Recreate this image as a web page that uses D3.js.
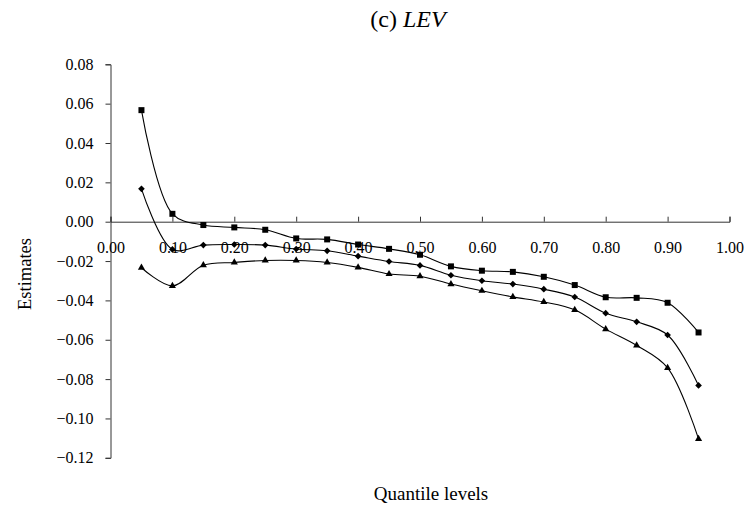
<!DOCTYPE html>
<html>
<head>
<meta charset="utf-8">
<script src="https://cdn.jsdelivr.net/npm/d3@7"></script>
<style>
  body { margin: 0; background: #fff; }
</style>
</head>
<body>
<div class="chart"></div>
<script>
'use strict';

// quantile levels on the x axis
var quantiles = [0.05, 0.10, 0.15, 0.20, 0.25, 0.30, 0.35, 0.40, 0.45, 0.50,
                 0.55, 0.60, 0.65, 0.70, 0.75, 0.80, 0.85, 0.90, 0.95];

// upper bound (squares)
var upperVals = [0.0567, 0.0040, -0.0017, -0.0029, -0.0041, -0.0085, -0.0090, -0.0116, -0.0138, -0.0168,
                 -0.0227, -0.0249, -0.0255, -0.0280, -0.0322, -0.0384, -0.0387, -0.0412, -0.0563];

// point estimate (diamonds)
var estVals = [0.0167, -0.0141, -0.0119, -0.0116, -0.0119, -0.0139, -0.0148, -0.0175, -0.0202, -0.0222,
               -0.0272, -0.0300, -0.0317, -0.0343, -0.0383, -0.0465, -0.0509, -0.0576, -0.0832];

// lower bound (triangles)
var lowerVals = [-0.0234, -0.0326, -0.0221, -0.0207, -0.0197, -0.0197, -0.0207, -0.0232, -0.0266, -0.0277,
                 -0.0317, -0.0351, -0.0382, -0.0408, -0.0448, -0.0546, -0.0629, -0.0743, -0.1104];

var xTicks = [0, 0.1, 0.2, 0.3, 0.4, 0.5, 0.6, 0.7, 0.8, 0.9, 1.0];
var yTicks = [0.08, 0.06, 0.04, 0.02, 0, -0.02, -0.04, -0.06, -0.08, -0.10, -0.12];

var serif = '"Liberation Serif", "Times New Roman", serif';
var width = 753;
var height = 509;

var svg = d3.select('.chart')
            .append('svg')
            .attr('width', width)
            .attr('height', height);

var x = d3.scaleLinear().domain([0, 1]).range([110.5, 729.5]);
var y = d3.scaleLinear().domain([-0.12, 0.08]).range([457.8, 64.3]);

// title
var title = svg.append('text')
    .attr('x', 408)
    .attr('y', 27)
    .attr('text-anchor', 'middle')
    .style('font-family', serif)
    .style('font-size', '24px');
title.append('tspan').text('(c) ');
title.append('tspan').style('font-style', 'italic').text('LEV');

// y axis
var yAxis = svg.append('g')
    .attr('transform', 'translate(' + x(0) + ',0)')
    .call(d3.axisLeft(y).tickValues(yTicks).tickSize(5).tickPadding(12)
            .tickFormat(d3.format('.2f')));
yAxis.selectAll('path, line').attr('stroke', '#333');
yAxis.selectAll('text')
    .style('font-family', serif)
    .style('font-size', '16px')
    .attr('fill', '#000');

// x axis sits at zero, ticks point up, labels sit below
var xAxis = svg.append('g')
    .attr('transform', 'translate(0,' + y(0) + ')')
    .call(d3.axisTop(x).tickValues(xTicks).tickSize(5).tickSizeOuter(5)
            .tickFormat(d3.format('.2f')));
xAxis.selectAll('path, line').attr('stroke', '#333');
xAxis.selectAll('text')
    .style('font-family', serif)
    .style('font-size', '16px')
    .attr('fill', '#000')
    .attr('y', 31);

// axis titles
svg.append('text')
    .attr('transform', 'translate(31,274) rotate(-90)')
    .attr('text-anchor', 'middle')
    .style('font-family', serif)
    .style('font-size', '18.5px')
    .text('Estimates');

svg.append('text')
    .attr('x', 431)
    .attr('y', 500)
    .attr('text-anchor', 'middle')
    .style('font-family', serif)
    .style('font-size', '19px')
    .text('Quantile levels');

var line = d3.line()
    .x(function(d) { return x(d.q); })
    .y(function(d) { return y(d.v); })
    .curve(d3.curveCatmullRom.alpha(0.5));

// square turned 45 degrees, Excel style diamond
var diamond = {
  draw: function(context, size) {
    var r = Math.sqrt(size / 2);
    context.moveTo(0, -r);
    context.lineTo(r, 0);
    context.lineTo(0, r);
    context.lineTo(-r, 0);
    context.closePath();
  }
};

var series = [
  { vals: upperVals, symbol: d3.symbolSquare, size: 36 },
  { vals: estVals, symbol: diamond, size: 22 },
  { vals: lowerVals, symbol: d3.symbolTriangle, size: 22 }
];

series.forEach(function(s) {
  var pts = quantiles.map(function(q, i) { return { q: q, v: s.vals[i] }; });

  svg.append('path')
      .datum(pts)
      .attr('d', line)
      .attr('fill', 'none')
      .attr('stroke', '#000')
      .attr('stroke-width', 1.1);

  svg.selectAll(null)
      .data(pts)
      .enter()
      .append('path')
      .attr('transform', function(d) {
        return 'translate(' + x(d.q) + ',' + y(d.v) + ')';
      })
      .attr('d', d3.symbol().type(s.symbol).size(s.size))
      .attr('fill', '#000');
});
</script>
</body>
</html>
